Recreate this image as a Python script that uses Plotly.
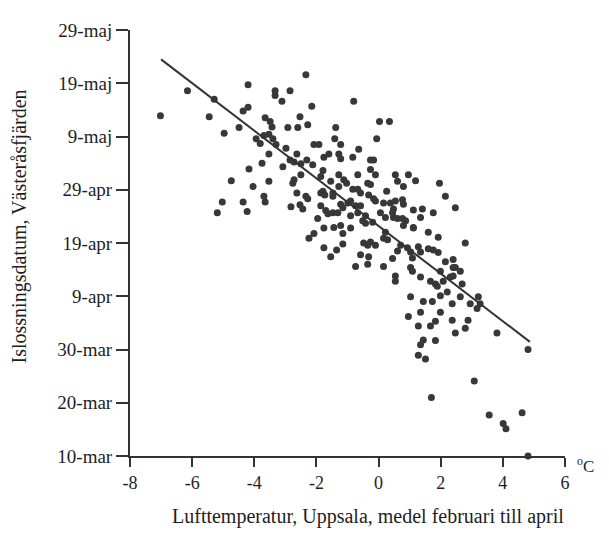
import plotly.graph_objects as go

# Air temperature (°C), Uppsala, mean Feb-Apr
temp = [
    -7.02, -6.15, -5.29, -5.45, -4.20, -4.36, -4.20, -4.49, -4.97, -3.65,
    -3.49, -3.43, -3.69, -3.53, -3.40, -3.94, -3.81, -3.30, -2.92, -2.60,
    -2.53, -2.28, -2.15, -2.34, -3.33, -3.33, -3.11, -2.85, -3.53, -3.75,
    -4.17, -4.74, -4.04, -3.53, -3.08, -2.98, -2.85, -2.72, -2.50, -2.31,
    -2.08, -1.92, -2.12, -2.50, -2.72, -2.76, -2.63, -2.34, -2.28, -3.69,
    -3.65, -5.03, -4.36, -5.19, -4.23, -2.82, -2.53, -2.44, -1.96, -2.08,
    -2.24, -0.80, -1.38, -1.41, -1.22, -0.64, -1.76, -1.60, -1.28, -1.22,
    -0.83, -1.79, -1.28, -0.67, -1.12, -1.03, -1.86, -1.28, -0.67, -0.58,
    0.03, 0.35, -0.06, -0.26, -0.16, -0.26, -0.10, 0.54, 0.61, 0.96,
    0.80, 1.19, 1.96, 2.15, 2.47, -1.79, -1.73, -1.47, -0.83, -0.26,
    0.26, -0.32, -0.10, 0.16, 0.38, 0.54, 0.77, 0.80, 1.12, 1.41,
    1.35, 1.76, -1.86, -1.70, -1.63, -1.31, -1.15, -0.99, -0.74, -0.67,
    -0.51, -0.42, -0.19, 0.06, 0.48, 0.61, 0.87, 1.12, 1.60, 1.92,
    -1.76, -1.44, -1.15, -0.90, -1.76, -1.54, -1.35, -1.15, -0.48, -0.26,
    -0.10, -0.32, -0.58, -0.74, 0.16, 0.29, 0.22, 0.16, 0.45, 0.61,
    0.71, 0.93, 1.03, 1.09, 1.03, 1.28, 1.35, 1.60, 1.76, 1.92,
    2.15, 2.40, 2.63, 2.40, 2.79, 0.54, 0.54, 1.35, 1.67, 1.83,
    2.08, 2.31, 2.69, 1.03, 1.44, 1.73, 1.99, 2.37, 2.63, 2.95,
    3.21, 3.27, 0.96, 1.35, 1.99, 2.37, 2.88, 2.79, 2.47, 1.28,
    1.67, 1.83, 1.44, 1.35, 1.83, 1.28, 1.51, 3.81, 4.81, 3.08,
    1.70, 3.56, 4.01, 4.10, 4.62, 4.81, 2.21, -0.35, 1.09, 1.99,
    2.47, 2.40, 1.89, 3.17, -0.42, -0.16, 0.45, 0.48, 0.77, 0.80,
    1.12, -0.35, -1.22, -1.47, -1.22, -1.47, -0.35, -2.63, -1.86, -1.54,
    -0.90, -0.58, 0.22, -0.90,
]

# Ice break-up date, Västeråsfjärden, as day number counted from 1 March
breakup_day = [
    73.9, 78.6, 77.0, 73.7, 79.7, 74.8, 75.5, 71.7, 70.6, 73.5,
    72.8, 71.8, 70.2, 70.4, 69.6, 69.6, 68.7, 68.5, 71.7, 71.7,
    73.7, 72.2, 75.7, 81.6, 78.6, 77.7, 76.6, 78.6, 66.7, 65.0,
    63.9, 61.7, 60.6, 61.6, 64.3, 67.8, 65.6, 65.2, 64.9, 65.6,
    68.5, 68.5, 64.7, 62.8, 61.9, 61.2, 59.4, 58.8, 58.3, 58.8,
    57.7, 57.7, 57.7, 55.7, 55.9, 56.8, 57.2, 56.4, 54.6, 51.8,
    50.9, 76.6, 71.7, 69.6, 68.5, 67.6, 66.1, 66.7, 66.7, 65.8,
    66.1, 63.6, 62.8, 62.8, 61.9, 61.2, 59.4, 60.6, 60.1, 59.4,
    72.8, 72.8, 69.6, 65.6, 65.6, 63.8, 62.8, 62.8, 61.6, 62.8,
    60.6, 61.7, 61.2, 58.8, 56.6, 59.7, 59.0, 58.8, 60.1, 61.0,
    59.7, 59.0, 57.9, 57.5, 57.5, 57.9, 58.1, 57.3, 56.2, 56.4,
    54.8, 55.7, 57.0, 56.1, 55.5, 55.7, 56.6, 57.5, 57.0, 55.7,
    54.2, 53.7, 53.9, 55.7, 56.4, 54.6, 54.2, 52.9, 52.0, 51.1,
    52.8, 52.9, 51.8, 52.8, 49.1, 47.4, 48.7, 49.8, 50.0, 50.2,
    49.6, 47.4, 47.8, 45.6, 50.9, 50.6, 52.0, 45.6, 47.1, 48.5,
    49.6, 49.1, 48.3, 47.2, 45.4, 49.3, 48.3, 48.9, 48.7, 48.2,
    46.5, 45.4, 44.7, 46.9, 50.0, 43.8, 42.8, 43.6, 42.8, 42.3,
    42.8, 43.6, 42.3, 39.9, 39.0, 39.0, 40.1, 38.6, 39.9, 38.6,
    39.9, 38.6, 36.2, 37.0, 37.0, 35.5, 35.5, 34.0, 33.1, 34.4,
    34.4, 35.3, 31.8, 30.9, 31.7, 28.9, 28.2, 33.1, 30.0, 24.1,
    21.0, 17.7, 16.1, 15.1, 18.1, 10.0, 40.8, 46.0, 44.7, 44.7,
    45.4, 43.8, 41.9, 37.7, 55.1, 58.3, 55.7, 54.8, 54.6, 53.3,
    52.8, 49.6, 53.3, 55.7, 57.3, 59.4, 61.2, 66.7, 62.5, 61.6,
    57.9, 57.0, 54.8, 55.1,
]

# Regression line (break-up day = intercept + slope * temperature)
fit_intercept = 53.2
fit_slope = -4.47
fit_x_range = [-7.0, 4.87]

# Axis ticks
x_ticks = [-8, -6, -4, -2, 0, 2, 4, 6]
y_tick_days = [10, 20, 30, 40, 50, 60, 70, 80, 90]
y_tick_labels = ["10-mar", "20-mar", "30-mar", "9-apr", "19-apr",
                 "29-apr", "9-maj", "19-maj", "29-maj"]

x_title = "Lufttemperatur, Uppsala, medel februari till april"
y_title = "Islossningsdatum, Västeråsfjärden"
unit_label = "<sup>o</sup>C"

ink = "#333333"
text_ink = "#1e1e1e"
font_family = "Liberation Serif, Times New Roman, serif"

fig = go.Figure()
fig.add_trace(go.Scatter(
    x=temp, y=breakup_day, mode="markers",
    marker=dict(size=7, color="#383838", line=dict(width=0)),
    showlegend=False, cliponaxis=False,
))
fit_y = [fit_intercept + fit_slope * v for v in fit_x_range]
fig.add_trace(go.Scatter(
    x=fit_x_range, y=fit_y, mode="lines",
    line=dict(color=ink, width=2), showlegend=False,
))

fig.update_layout(
    width=601, height=525,
    margin=dict(l=122, r=44, t=12, b=77),
    paper_bgcolor="white", plot_bgcolor="white",
    font=dict(family=font_family, size=19, color=text_ink),
    xaxis=dict(
        range=[-8, 6], tickvals=x_ticks, ticktext=[str(v) for v in x_ticks],
        showgrid=False, zeroline=False, showline=True, linecolor=ink, linewidth=2,
        ticks="outside", ticklen=9, tickwidth=2, tickcolor=ink,
        tickfont=dict(size=18),
    ),
    yaxis=dict(
        range=[10, 90], tickvals=y_tick_days, ticktext=y_tick_labels,
        showgrid=False, zeroline=False, showline=True, linecolor=ink, linewidth=2,
        ticks="outside", ticklen=12, tickwidth=2, tickcolor=ink,
        tickfont=dict(size=19),
    ),
    annotations=[
        dict(text=x_title, xref="paper", yref="paper", x=0.547, y=-0.142,
             xanchor="center", yanchor="middle", showarrow=False,
             font=dict(size=20)),
        dict(text=y_title, xref="paper", yref="paper", x=-0.255, y=0.539,
             xanchor="center", yanchor="middle", textangle=-90, showarrow=False,
             font=dict(size=20)),
        dict(text=unit_label, xref="paper", yref="paper", x=1.022, y=-0.02,
             xanchor="left", yanchor="middle", showarrow=False,
             font=dict(size=17)),
    ],
)

fig.write_html("out.html")
